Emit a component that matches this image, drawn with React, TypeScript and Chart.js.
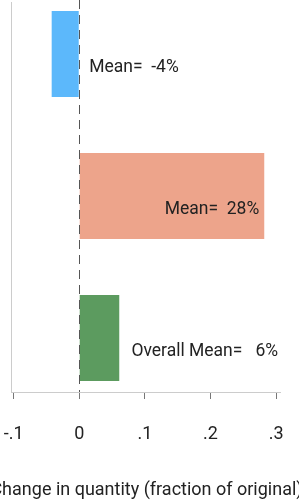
import React, { useEffect, useRef } from 'react';
import { Chart, registerables } from 'chart.js';

Chart.register(...registerables);

const categories = ['Group 1', 'Group 2', 'Overall'];
const changeValues = [-0.042, 0.282, 0.061];
const meanLabels = ['Mean=  -4%', 'Mean=  28%', 'Overall Mean=   6%'];
const barColors = ['#5cb8fb', '#eda48b', '#5c9b5f'];
const xTickValues = [-0.1, 0, 0.1, 0.2, 0.3];
const xTickLabels = ['-.1', '0', '.1', '.2', '.3'];
const axisTitle = 'Change in quantity (fraction of original)';

const FONT = 'Roboto';

const overlayPlugin = {
  id: 'overlay',
  afterDatasetsDraw(chart: any) {
    const { ctx, chartArea, scales } = chart;
    const x = scales.x;
    const y = scales.y;
    const x0 = Math.round(x.getPixelForValue(0)) + 0.5;
    ctx.save();
    ctx.strokeStyle = '#555555';
    ctx.lineWidth = 1;
    ctx.setLineDash([9, 6]);
    ctx.beginPath();
    ctx.moveTo(x0, chartArea.top - 2);
    ctx.lineTo(x0, chartArea.bottom);
    ctx.stroke();
    ctx.setLineDash([]);

    ctx.font = `17.5px ${FONT}`;
    ctx.fillStyle = '#222222';
    ctx.textBaseline = 'middle';
    meanLabels.forEach((label, i) => {
      const cy = y.getPixelForValue(i) + 14;
      if (i === 0) {
        ctx.textAlign = 'left';
        ctx.fillText(label, x.getPixelForValue(0) + 10, cy);
      } else if (i === 1) {
        ctx.textAlign = 'right';
        ctx.fillText(label, x.getPixelForValue(changeValues[i]) - 5, cy);
      } else {
        ctx.textAlign = 'right';
        ctx.fillText(label, x.getPixelForValue(0.3) + 2, cy);
      }
    });
    ctx.restore();
  },
  afterDraw(chart: any) {
    const { ctx, chartArea } = chart;
    ctx.save();
    ctx.font = `18px ${FONT}`;
    ctx.fillStyle = '#222222';
    ctx.textAlign = 'center';
    ctx.textBaseline = 'middle';
    ctx.fillText(axisTitle, (chartArea.left + chartArea.right) / 2 + 1, chart.height - 10);
    ctx.restore();
  },
};

export default function App() {
  const canvasRef = useRef<HTMLCanvasElement | null>(null);

  useEffect(() => {
    document.body.style.margin = '0';
    const canvas = canvasRef.current;
    if (!canvas) return;
    const chart = new Chart(canvas, {
      type: 'bar',
      data: {
        datasets: [
          {
            label: 'Change',
            data: changeValues.map((v, i) => ({ x: v, y: i })) as any,
            backgroundColor: barColors,
            borderWidth: 0,
            barPercentage: 0.606,
            categoryPercentage: 1,
          },
        ],
      },
      options: {
        indexAxis: 'y',
        responsive: false,
        animation: false,
        devicePixelRatio: 1,
        layout: { autoPadding: false, padding: { top: 2, right: 19, left: 0, bottom: 0 } },
        plugins: {
          legend: { display: false },
          tooltip: { enabled: false },
        },
        scales: {
          x: {
            type: 'linear',
            min: -0.104,
            max: 0.306,
            bounds: 'data',
            afterBuildTicks: (s: any) => {
              s.ticks = xTickValues.map((v) => ({ value: v }));
            },
            afterFit: (s: any) => {
              s.height = 108;
              s.paddingLeft = 0;
              s.paddingRight = 0;
            },
            ticks: {
              callback: (_v: any, i: number) => xTickLabels[i],
              padding: 25,
              color: '#222222',
              font: { family: FONT, size: 18 },
              maxRotation: 0,
              autoSkip: false,
            },
            grid: {
              drawOnChartArea: false,
              drawTicks: true,
              tickLength: 7,
              tickColor: '#777777',
            },
            border: { display: true, color: '#cccccc' },
          },
          y: {
            type: 'linear',
            reverse: true,
            offset: false,
            min: -0.366,
            max: 2.38,
            bounds: 'data',
            afterBuildTicks: (s: any) => {
              s.ticks = categories.map((_c, i) => ({ value: i }));
            },
            afterFit: (s: any) => {
              s.width = 11;
              s.paddingTop = 0;
              s.paddingBottom = 0;
            },
            ticks: { display: false },
            grid: { display: false },
            border: { display: true, color: '#cccccc' },
          },
        },
      },
      plugins: [overlayPlugin],
    });
    return () => chart.destroy();
  }, []);

  return (
    <div style={{ width: 299, height: 500, position: 'relative' }}>
      <canvas ref={canvasRef} width={299} height={500} />
    </div>
  );
}
